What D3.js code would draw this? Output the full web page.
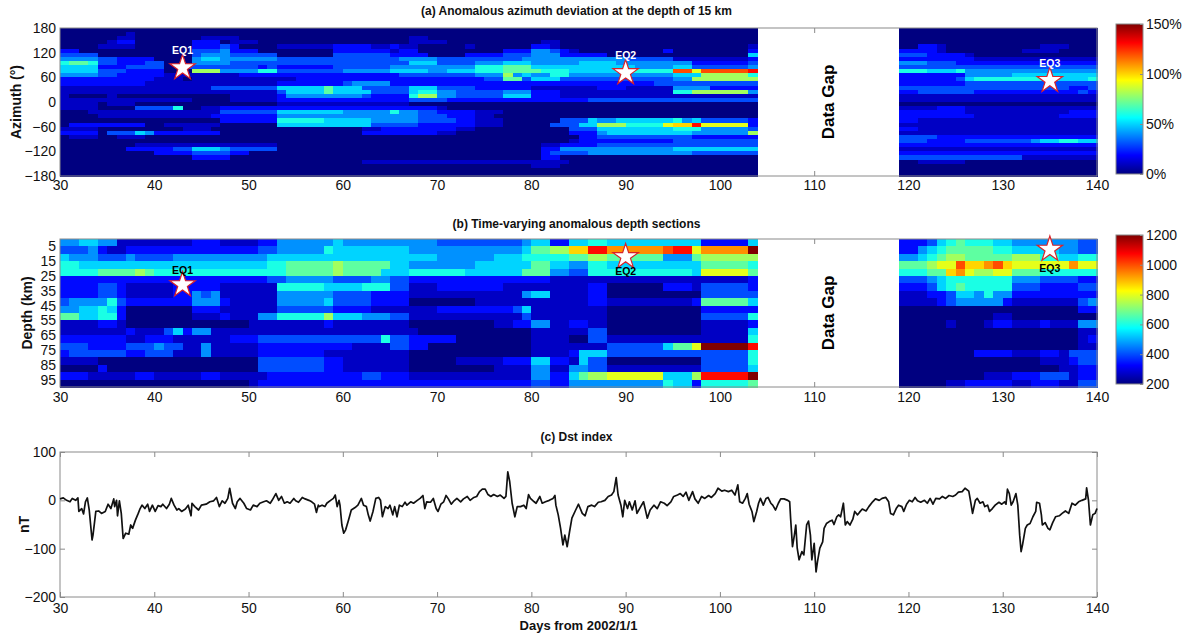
<!DOCTYPE html>
<html>
<head>
<meta charset="utf-8">
<script src="https://cdn.jsdelivr.net/npm/d3@7"></script>
<style>
  body { margin: 0; background: #fff; }
  svg { display: block; font-family: "Liberation Sans", Arial, sans-serif; }
  .axis path.domain { display: none; }
  .axis line { stroke: #8a8a8a; }
  .axis text { font-size: 14px; fill: #111; }
</style>
</head>
<body>
<svg id="chart" width="1192" height="635"></svg>
<script>
// ---------- values ----------
const dayTicks = [30, 40, 50, 60, 70, 80, 90, 100, 110, 120, 130, 140];
const azimuthTicks = [180, 120, 60, 0, -60, -120, -180];
const depthTicks = [5, 15, 25, 35, 45, 55, 65, 75, 85, 95];
const dstTicks = [100, 0, -100, -200];
const pctTicks = [0, 50, 100, 150];
const anomalyTicks = [200, 400, 600, 800, 1000, 1200];

// first and last day of the 1-day columns on each side of the gap
const daySegments = [[30, 103], [119, 139]];
const gapDays = [104, 119];

// azimuth bins of 10 deg, from 180 down to -180; one hex digit per day, 1 step = 10 %
// groups: 30-39 40-49 50-59 60-69 70-79 80-89 90-99 100-103 | 119-128 129-139
const azimuthRows = [
  "0000000000 0000000000 0000000000 0000000000 0000000000 0000000000 0000000000 0000 0000000000 00000000000",
  "0000000100 0000000000 0000000000 0000000000 0000000000 0000000000 0000000000 0000 0000000000 00000000000",
  "0000001100 0000011110 0000000000 0000000110 0000000000 0000000000 0000000000 0000 0000000000 00000000000",
  "0000012200 0000222011 1000000000 0000000111 1000000000 0110000000 0000000000 0000 0000000000 00000000000",
  "0000111100 0000222320 0001111112 2221121100 0001000000 2210000000 0000000000 0001 0022100000 00000111000",
  "2200000000 0000333422 2000000002 2222212200 0000000222 4432100000 0000200000 0002 2222100000 00011110000",
  "3333000000 0000344433 3330000003 3333322220 0002222333 4442222200 0000000000 0005 3332222100 00000000000",
  "4444332222 0000455444 4443333333 3333334444 3333333334 4444444444 3333311111 1112 2222222211 11111111111",
  "6776332223 3000444433 3333333333 3333333555 3333444555 4444455554 4444444222 2223 4443332222 22222222222",
  "5555222333 3003333333 3232222223 3333344444 4444666777 5555555555 5444455333 3334 3333333333 33333333333",
  "5555333222 2000888444 4663333333 4444455554 4555666777 7666555555 66666CC9CC CCCD 6665556444 44444444444",
  "4444332222 2111111112 2222222222 2222223333 3333444845 4466444444 4444455588 8886 2222222444 44555555555",
  "2222222222 1110111111 1111122222 2222222222 2222233773 5553333333 3333344888 8888 2222223566 66666665556",
  "2222222221 1111111111 1112222222 3444422222 2222222222 2222222222 2223333333 3333 2222222333 33333333333",
  "1111111111 1111113333 3335555575 5533333555 3333222222 1111111222 1111144442 2222 3333333333 33333333223",
  "1111111111 1111111111 1113555575 5553333566 4433333444 2221111111 1111166888 8884 2233333322 22222222232",
  "1000010000 0000000011 1112444444 4432222688 4433333555 2221111111 1111111111 1111 1111111111 11111111111",
  "1111111111 1111000011 1112222222 2222222333 3222222222 2222223333 3333333333 3333 1111111111 11111111111",
  "1111011100 0000000000 0001111111 1111111000 0000000000 0000000000 0000000000 0000 0000000000 00000000000",
  "1111000033 3360011222 2222222222 2222222222 1000000000 0000000000 0000000000 0000 1111222111 11111111111",
  "0001111111 1111111333 3335555555 4444464433 2222111000 0000000000 0000000000 0000 2222222111 11111111222",
  "0000111111 1111112222 2224444444 4444444433 3222110000 0000000000 0000000000 0000 2222222211 11111112222",
  "0000000000 0000000222 2226666655 5554444433 3322111000 0003335445 5555564533 3332 2211111111 11111111111",
  "0222222220 0111111000 0005555555 5553333322 2222111000 0033355888 66669AAD99 9992 1111111111 11111111111",
  "1111000000 0001110000 0000000000 0011222222 2211000000 0000333555 5555566644 4443 2211111111 11111111111",
  "2222033354 2222222000 0000000000 0022222222 1100000000 0000222455 5555555444 4448 1111111111 11111111111",
  "0111001110 0000000000 0000000000 0000000000 0000000000 0000022333 3333333222 2222 3333222222 22222222222",
  "0000000000 0000000000 0000000000 0000000000 0000000000 0000122222 2222233333 3333 3332222333 33334556655",
  "0000000011 1111111111 1110000000 0000000000 0000000000 0112222333 3333333333 3333 2222222222 22222222222",
  "0000000222 2233555433 3330000000 0000000000 0000000000 0224444444 4444455555 5555 1111111111 11111111111",
  "0000000000 2222333322 0000000000 0000000000 0000000000 0233334444 4444444333 3333 2222222222 22222222222",
  "0000000000 0000222200 0000000000 0000000000 0000000000 0220000000 0000000000 0000 3333333333 33311111111",
  "0000000000 0000000000 0000000000 0011111111 1111111111 1111000000 0000000000 0000 0011111000 00000000000",
  "0000000000 0000000000 0000000000 0000000000 0000000000 1110000000 0000000000 0000 0000000000 00000000000",
  "0000000000 0000000000 0000000000 0000000000 0000000000 0000000000 0000000000 0000 0000000000 00000000000",
  "0000000000 0000000000 0000000000 0000000000 0000000000 0000000000 0000000000 0000 0000000000 00000000000"
];

// depth bins of 5 km, from 0 down to 100 km; one hex digit per day, 0 = 200, F = 1200
const depthRows = [
  "4455441111 1111222111 1224444445 4444444444 3333333334 5522556655 5555555522 2225 2223567666 55444444433",
  "3334211222 2222222222 2334444465 5555555444 4444444445 7788AADDBB BBBBCDD9BB BBBF 2245677777 66555554433",
  "5444333433 3344444444 4455555555 5555555555 4444445556 6666778877 7777444788 8888 4456788777 77888665566",
  "6655555555 5555555555 5566777778 7777755444 4444555555 7755446655 5555555577 7776 777899CAAB CA999999B99",
  "6666777787 6666666666 6666777778 7777555666 6665555557 7744336666 6666666599 9997 66677AB988 99777666666",
  "2222222222 2222222222 2233444443 3334433222 2222222222 2211111111 1111111111 1112 3334566666 66444333322",
  "2222332111 1122222111 1116666655 5566633111 2222222111 1111112200 0000222133 3332 2223567666 66333222233",
  "2222332111 1122434111 1114444443 3332222111 1111111114 5511112200 0000000033 3333 1112235546 44222222222",
  "3444463222 2222444211 1114444453 3332222000 0000111111 1111112211 1111111277 7775 1111234444 42111111134",
  "4455652000 0000222111 1113333332 2221111111 2222222235 1111111100 0000000022 2222 0000000000 00000000022",
  "7755662000 0000111211 1446666685 5544433111 1111111113 1111111100 0000000033 3336 0000000000 11000000000",
  "1111221000 0000000000 1111111121 1111111000 0000001122 4411221100 0000000011 1112 0000010001 22111211144",
  "1111111211 1352441111 1111111111 1111111100 0000000000 1111113300 0000000011 1115 0000000000 00000000011",
  "2222222112 2211111122 2333333333 3333633222 2200000000 1111003311 1111111111 1116 0000000000 00000000012",
  "3332222333 4331141111 1222222222 2111133220 0000000000 1111111133 33335779FF FFFD 0000000000 00000000011",
  "2333333223 3311141111 1222222211 1111111000 0000000000 1111255533 3333333333 3336 0000000022 22111221333",
  "1111000000 0000000000 0333333322 1111111000 0011111222 5522153300 0000000033 3336 0000000000 00000111233",
  "0000200000 0000000000 0333333322 1111111000 0000001111 4411443311 1111111133 3335 0000000000 00000001122",
  "2221111122 1111122111 1122222222 2233222111 1111111111 4422578899 99995558DD DDDF 0000000001 11222333122",
  "0000000000 0000000000 1222222222 2222222222 2222222222 3322444444 4444655266 6667 0000011222 22112221133"
];

const quakes = [
  { name: "EQ1", day: 43, azimuth: 83, depth: 31 },
  { name: "EQ2", day: 90, azimuth: 71, depth: 12 },
  { name: "EQ3", day: 135, azimuth: 52, depth: 7 }
];

// Dst index: [day, nT]
const dstReadings = [
  [30.0,3],[30.35,5],[30.7,0],[31.06,-3],[31.3,4],[31.66,0],[31.9,5],[32.0,-23],[32.3,-17],[32.5,-28],
  [32.7,-3],[32.9,5],[33.1,-20],[33.4,-82],[33.5,-72],[33.8,-23],[34.1,-22],[34.4,-27],[34.8,-23],[35.1,-8],
  [35.4,-17],[35.7,3],[35.8,-13],[36.0,0],[36.1,-32],[36.3,-1],[36.5,-27],[36.7,-79],[36.97,-68],[37.3,-70],
  [37.5,-51],[37.7,-58],[38.0,-41],[38.3,-27],[38.5,-17],[38.7,-10],[39.0,-17],[39.3,-8],[39.5,-23],[39.8,-10],
  [40.1,-23],[40.4,-11],[40.7,-13],[40.9,-8],[41.3,-17],[41.6,-8],[41.8,4],[42.1,-10],[42.4,-20],[42.6,-17],
  [42.9,-23],[43.3,-18],[43.6,-10],[43.9,-32],[44.0,-6],[44.3,-13],[44.7,-20],[45.0,-10],[45.5,-8],[45.9,-3],
  [46.3,-1],[46.6,6],[46.9,-13],[47.2,-1],[47.5,-6],[47.8,4],[48.0,25],[48.3,-6],[48.6,-17],[48.8,-3],
  [49.1,4],[49.5,-6],[49.8,-17],[50.2,-20],[50.5,-10],[50.9,-13],[51.2,-6],[51.6,-3],[51.9,-1],[52.3,-6],
  [52.5,0],[52.9,14],[53.2,0],[53.5,8],[53.8,-6],[54.1,-3],[54.4,-6],[54.8,4],[55.0,-1],[55.3,-4],
  [55.7,6],[56.0,3],[56.4,0],[56.7,-3],[57.0,-8],[57.2,-25],[57.4,-10],[57.5,-13],[57.8,-10],[58.1,-13],
  [58.3,-6],[58.7,0],[59.0,4],[59.2,11],[59.4,-13],[59.6,0],[59.7,-10],[59.9,-51],[60.1,-68],[60.3,-61],
  [60.6,-41],[60.9,-20],[61.3,-15],[61.6,-10],[61.97,4],[62.2,-10],[62.5,-13],[62.7,-30],[62.9,-43],[63.2,-23],
  [63.5,4],[63.8,6],[64.0,0],[64.2,-34],[64.5,-13],[64.8,-17],[65.0,-10],[65.3,-30],[65.5,-13],[65.75,-34],
  [66.0,-10],[66.3,-13],[66.6,-4],[66.8,-10],[67.2,-3],[67.5,-6],[67.9,0],[68.2,4],[68.5,10],[68.7,-17],
  [68.9,-3],[69.3,-4],[69.6,4],[69.9,-17],[70.1,-23],[70.4,-8],[70.7,-3],[70.95,10],[71.2,3],[71.5,-8],
  [71.8,-1],[72.1,4],[72.5,-3],[72.8,3],[73.2,8],[73.5,0],[73.9,6],[74.2,8],[74.5,18],[74.8,23],
  [75.1,23],[75.4,12],[75.7,8],[76.0,12],[76.4,8],[76.7,11],[77.1,4],[77.3,8],[77.5,59],[77.7,39],
  [77.96,-6],[78.25,-34],[78.5,-13],[78.85,-13],[79.2,-10],[79.45,-17],[79.7,12],[79.9,4],[80.3,-3],[80.5,-6],
  [80.9,8],[81.15,-6],[81.5,-3],[81.9,0],[82.3,4],[82.5,10],[82.6,-10],[82.85,-30],[83.1,-58],[83.35,-92],
  [83.55,-72],[83.8,-96],[84.05,-65],[84.3,-37],[84.7,-20],[85.0,-8],[85.4,-27],[85.7,-32],[86.0,-13],[86.4,-10],
  [86.7,-13],[87.1,-4],[87.4,-3],[87.8,0],[88.15,8],[88.5,11],[88.75,18],[89.0,47],[89.2,11],[89.5,-10],
  [89.7,-34],[89.9,0],[90.2,-17],[90.4,-3],[90.7,-20],[91.0,-1],[91.2,-27],[91.6,-13],[91.9,-3],[92.3,-37],
  [92.6,-20],[93.0,-10],[93.35,-17],[93.7,-3],[94.1,-6],[94.4,-11],[94.8,-3],[95.1,8],[95.5,11],[95.8,14],
  [96.1,8],[96.4,17],[96.7,0],[97.1,18],[97.35,3],[97.7,-6],[98.06,8],[98.4,4],[98.8,10],[99.1,6],
  [99.5,14],[99.8,25],[100.2,19],[100.5,21],[100.9,18],[101.25,21],[101.6,11],[101.9,32],[102.1,-3],[102.4,-6],
  [102.7,4],[102.9,14],[103.1,-8],[103.4,-23],[103.6,-44],[103.9,-23],[104.1,-6],[104.3,4],[104.6,-10],[104.9,4],
  [105.1,6],[105.4,-6],[105.6,-10],[105.9,-20],[106.2,-6],[106.45,3],[106.8,3],[107.2,0],[107.4,-3],[107.5,-37],
  [107.7,-96],[107.9,-72],[108.05,-51],[108.2,-99],[108.4,-123],[108.7,-106],[108.9,-113],[109.2,-51],[109.4,-43],[109.6,-72],
  [109.75,-123],[110.0,-89],[110.2,-148],[110.35,-127],[110.6,-99],[110.9,-86],[111.05,-58],[111.3,-48],[111.6,-44],[111.9,-41],
  [112.1,-50],[112.4,-34],[112.6,-30],[112.8,-34],[113.1,-6],[113.3,-51],[113.5,-44],[113.8,-51],[114.1,-39],[114.3,-23],
  [114.6,-30],[114.8,-25],[115.1,-18],[115.5,-22],[115.8,-13],[116.2,-3],[116.5,3],[116.9,0],[117.2,4],[117.6,6],
  [117.9,-3],[118.1,-27],[118.4,-30],[118.7,-17],[118.95,-10],[119.3,-13],[119.5,-23],[119.8,-8],[120.1,0],[120.4,-3],
  [120.7,6],[120.96,-1],[121.3,-4],[121.7,0],[122.0,-6],[122.3,4],[122.6,-8],[122.9,4],[123.3,3],[123.6,8],
  [123.95,4],[124.3,10],[124.7,8],[125.0,11],[125.3,17],[125.7,18],[126.0,25],[126.4,19],[126.6,-3],[126.8,-27],
  [127.1,0],[127.3,4],[127.6,-6],[127.9,-3],[128.1,-13],[128.4,-10],[128.6,-23],[128.9,-17],[129.2,-10],[129.6,-4],
  [129.9,-8],[130.2,-3],[130.35,-8],[130.5,23],[130.7,14],[130.9,-10],[131.1,-3],[131.4,14],[131.6,-10],[131.8,-72],
  [131.95,-106],[132.1,-92],[132.4,-58],[132.6,-51],[132.9,-48],[133.2,-34],[133.5,-23],[133.6,-4],[133.9,-6],[134.1,-30],
  [134.2,-51],[134.5,-46],[134.8,-58],[135.0,-61],[135.3,-46],[135.6,-34],[136.0,-32],[136.3,-27],[136.65,-22],[137.0,-27],
  [137.35,-6],[137.7,-10],[138.05,-3],[138.4,0],[138.8,3],[138.9,26],[139.1,0],[139.3,-51],[139.55,-30],[139.8,-27],
  [140.0,-17]
];

// ---------- drawing ----------
const svg = d3.select("#chart");
const defs = svg.append("defs");

const left = 60, right = 1097;
const panelA = { top: 28, bottom: 176 };
const panelB = { top: 239, bottom: 387 };
const panelC = { top: 452, bottom: 597 };

const x = d3.scaleLinear().domain([30, 140]).range([left, right]);
const yAz = d3.scaleLinear().domain([180, -180]).range([panelA.top, panelA.bottom]);
const yDepth = d3.scaleLinear().domain([0, 100]).range([panelB.top, panelB.bottom]);
const yDst = d3.scaleLinear().domain([-200, 100]).range([panelC.bottom, panelC.top]);

// MATLAB "jet"
const jet = d3.scaleLinear()
  .domain([0, 0.125, 0.375, 0.625, 0.875, 1])
  .range(["#000080", "#0000ff", "#00ffff", "#ffff00", "#ff0000", "#800000"])
  .clamp(true);
const pctToT = d3.scaleLinear().domain([0, 150]).range([0, 1]).clamp(true);
const anomToT = d3.scaleLinear().domain([200, 1200]).range([0, 1]).clamp(true);

const heatDays = daySegments.flatMap(([a, b]) => d3.range(a, b + 1));

function parseRows(rows, toValue) {
  return rows.map(r => {
    const s = r.replace(/\s/g, "");
    if (s.length !== heatDays.length) console.warn("row length", s.length);
    return s.split("").map(c => toValue(parseInt(c, 16)));
  });
}
const azimuthGrid = parseRows(azimuthRows, l => l * 10);
const depthGrid = parseRows(depthRows, l => 200 + l * 1000 / 15);

function dayAxes(p, pad) {
  svg.append("g").attr("class", "axis")
    .attr("transform", `translate(0,${p.bottom})`)
    .call(d3.axisBottom(x).tickValues(dayTicks).tickSize(-5).tickPadding(pad).tickFormat(d3.format("d")));
  svg.append("g").attr("class", "axis")
    .attr("transform", `translate(0,${p.top})`)
    .call(d3.axisTop(x).tickValues(dayTicks).tickSize(-5).tickFormat(""));
}

function valueAxes(y, ticks) {
  svg.append("g").attr("class", "axis")
    .attr("transform", `translate(${left},0)`)
    .call(d3.axisLeft(y).tickValues(ticks).tickSize(-5).tickPadding(4).tickFormat(d3.format("d")));
  svg.append("g").attr("class", "axis")
    .attr("transform", `translate(${right},0)`)
    .call(d3.axisRight(y).tickValues(ticks).tickSize(-5).tickFormat(""));
}

function frame(p) {
  svg.append("rect")
    .attr("x", left).attr("y", p.top)
    .attr("width", right - left).attr("height", p.bottom - p.top)
    .attr("fill", "none").attr("stroke", "#8a8a8a").attr("stroke-width", 1);
}

function heatmap(grid, rowEdge, y, toT) {
  const cells = [];
  grid.forEach((row, i) => row.forEach((v, j) => cells.push({ i, day: heatDays[j], v })));
  svg.append("g").attr("shape-rendering", "crispEdges")
    .selectAll("rect").data(cells).join("rect")
    .attr("x", d => x(d.day))
    .attr("width", d => x(d.day + 1) - x(d.day) + 0.6)
    .attr("y", d => y(rowEdge(d.i)[0]))
    .attr("height", d => y(rowEdge(d.i)[1]) - y(rowEdge(d.i)[0]) + 0.6)
    .attr("fill", d => jet(toT(d.v)));
}

function gapLabel(p) {
  const cx = x((gapDays[0] + gapDays[1]) / 2), cy = (p.top + p.bottom) / 2;
  svg.append("text")
    .attr("transform", `translate(${cx},${cy}) rotate(-90)`)
    .attr("text-anchor", "middle").attr("dominant-baseline", "central")
    .style("font-size", "17px").style("font-weight", "bold").attr("fill", "#000")
    .text("Data Gap");
}

function colorbar(id, top, bottom, scale, ticks, fmt) {
  const grad = defs.append("linearGradient").attr("id", id)
    .attr("x1", 0).attr("y1", 1).attr("x2", 0).attr("y2", 0);
  jet.domain().forEach((t, k) => grad.append("stop").attr("offset", t).attr("stop-color", jet.range()[k]));
  svg.append("rect").attr("x", 1116).attr("y", top).attr("width", 27).attr("height", bottom - top)
    .attr("fill", `url(#${id})`).attr("stroke", "#8a8a8a");
  svg.append("g").attr("class", "axis").attr("transform", "translate(1143,0)")
    .call(d3.axisRight(scale).tickValues(ticks).tickSize(-3).tickPadding(3).tickFormat(fmt));
}

function title(txt, yPos) {
  svg.append("text").attr("x", (left + right) / 2 - 2).attr("y", yPos)
    .attr("text-anchor", "middle").style("font-size", "12px").style("font-weight", "bold")
    .attr("fill", "#111").text(txt);
}

function yLabel(txt, xPos, yPos) {
  svg.append("text").attr("transform", `translate(${xPos},${yPos}) rotate(-90)`)
    .attr("text-anchor", "middle").attr("dominant-baseline", "central")
    .style("font-size", "14px").style("font-weight", "bold").attr("fill", "#111").text(txt);
}

const star = d3.symbol().type(d3.symbolStar).size(200);

function quakeMarks(y, key, labelColor, labelDy) {
  quakes.forEach(q => {
    const cx = x(q.day), cy = y(q[key]);
    svg.append("path").attr("d", star).attr("transform", `translate(${cx},${cy})`)
      .attr("fill", "#fff").attr("stroke", "#d8232a").attr("stroke-width", 1.2);
    svg.append("text").attr("x", cx).attr("y", cy + labelDy(q))
      .attr("text-anchor", "middle").attr("dominant-baseline", "central")
      .style("font-size", "10.5px").style("font-weight", "bold").attr("fill", labelColor)
      .text(q.name);
  });
}

// (a) azimuth
title("(a) Anomalous azimuth deviation at the depth of 15 km", 15);
dayAxes(panelA, 4);
valueAxes(yAz, azimuthTicks);
heatmap(azimuthGrid, i => [180 - 10 * i, 170 - 10 * i], yAz, pctToT);
frame(panelA);
gapLabel(panelA);
quakeMarks(yAz, "azimuth", "#fff", () => -18);
colorbar("cbA", 24, 174, d3.scaleLinear().domain([0, 150]).range([174, 24]), pctTicks, d => d + "%");
yLabel("Azimuth (°)", 16, (panelA.top + panelA.bottom) / 2);

// (b) depth sections
title("(b) Time-varying anomalous depth sections", 228);
dayAxes(panelB, 5);
valueAxes(yDepth, depthTicks);
heatmap(depthGrid, i => [5 * i, 5 * i + 5], yDepth, anomToT);
frame(panelB);
gapLabel(panelB);
quakeMarks(yDepth, "depth", "#000", q => q.name === "EQ1" ? -15 : (q.name === "EQ2" ? 14 : 19));
colorbar("cbB", 235, 384, d3.scaleLinear().domain([200, 1200]).range([384, 235]), anomalyTicks, d3.format("d"));
yLabel("Depth (km)", 27, (panelB.top + panelB.bottom) / 2);

// (c) Dst
title("(c) Dst index", 441);
dayAxes(panelC, 6);
valueAxes(yDst, dstTicks);
frame(panelC);
svg.append("path").datum(dstReadings)
  .attr("fill", "none").attr("stroke", "#111").attr("stroke-width", 1.7)
  .attr("stroke-linejoin", "round")
  .attr("d", d3.line().x(d => x(d[0])).y(d => yDst(d[1])));
yLabel("nT", 24, (panelC.top + panelC.bottom) / 2);
svg.append("text").attr("x", (left + right) / 2).attr("y", 630)
  .attr("text-anchor", "middle").style("font-size", "13px").style("font-weight", "bold")
  .attr("fill", "#111").text("Days from 2002/1/1");
</script>
</body>
</html>
